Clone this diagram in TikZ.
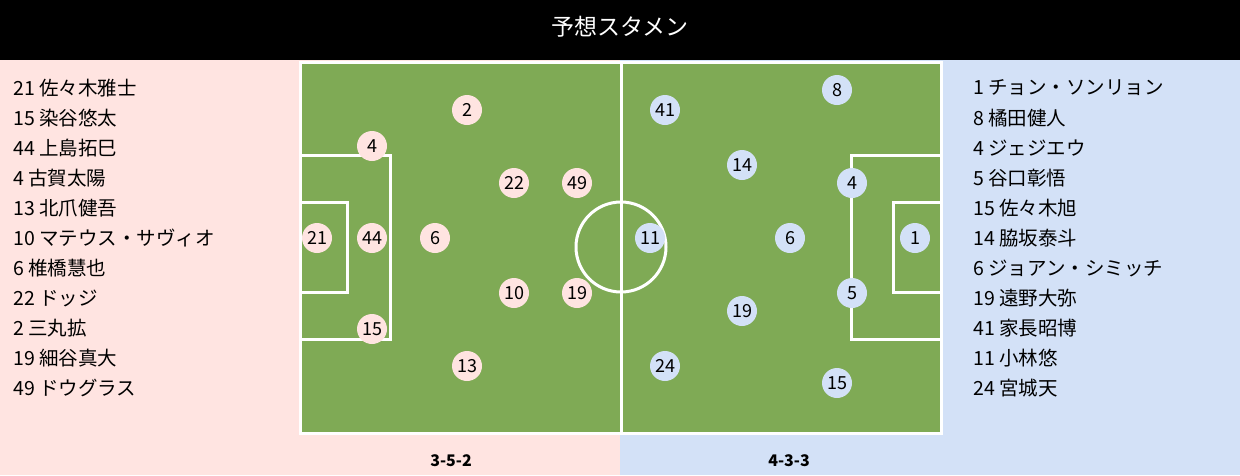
\documentclass[tikz,border=0pt]{standalone}
\usepackage{fontspec}
\setmainfont{Noto Sans CJK JP}
\definecolor{homebg}{RGB}{255,228,225}
\definecolor{awaybg}{RGB}{211,225,247}
\definecolor{turf}{RGB}{127,170,85}
\begin{document}
\begin{tikzpicture}[x=1pt,y=1pt]
\tikzstyle{every node}+=[inner sep=0pt]
\tikzstyle{home}=[circle,fill=homebg,minimum size=30pt,font=\fontsize{18}{18}\selectfont]
\tikzstyle{away}=[circle,fill=awaybg,minimum size=30pt,font=\fontsize{18}{18}\selectfont]
\tikzstyle{roster}=[anchor=west,font=\fontsize{19.5}{19.5}\selectfont]
\tikzstyle{pitchline}=[white,line width=3pt]
\useasboundingbox (0,0) rectangle (1240,-475);
\fill [homebg] (0,-60) rectangle (620,-475);
\fill [awaybg] (620,-60) rectangle (1240,-475);
\fill [black] (0,0) rectangle (1240,-60);
\draw (620,-27) node [white,font=\fontsize{23}{23}\selectfont] (title) {予想スタメン};
% pitch
\fill [turf] (300,-62) rectangle (941,-433);
\draw [pitchline] (300,-62) rectangle (941,-433);
\draw [pitchline] (621,-62) -- (621,-433);
\draw [pitchline] (621,-247) circle (45);
\draw [pitchline] (300,-155) -- (390,-155) -- (390,-339) -- (300,-339);
\draw [pitchline] (300,-202) -- (347,-202) -- (347,-292) -- (300,-292);
\draw [pitchline] (941,-155) -- (851,-155) -- (851,-339) -- (941,-339);
\draw [pitchline] (941,-202) -- (893,-202) -- (893,-292) -- (941,-292);
% home side
\draw (317,-238) node [home] (h21) {21};
\draw (372,-238) node [home] (h44) {44};
\draw (435,-238) node [home] (h6) {6};
\draw (372,-146) node [home] (h4) {4};
\draw (372,-329) node [home] (h15) {15};
\draw (467,-110) node [home] (h2) {2};
\draw (514,-183) node [home] (h22) {22};
\draw (577,-183) node [home] (h49) {49};
\draw (514,-293) node [home] (h10) {10};
\draw (577,-293) node [home] (h19) {19};
\draw (467,-366) node [home] (h13) {13};
% away side
\draw (915,-238) node [away] (a1) {1};
\draw (852,-183) node [away] (a4) {4};
\draw (852,-293) node [away] (a5) {5};
\draw (790,-238) node [away] (a6) {6};
\draw (650,-238) node [away] (a11) {11};
\draw (837,-90) node [away] (a8) {8};
\draw (665,-110) node [away] (a41) {41};
\draw (742,-165) node [away] (a14) {14};
\draw (742,-311) node [away] (a19) {19};
\draw (665,-366) node [away] (a24) {24};
\draw (837,-383) node [away] (a15) {15};
% lists
\draw (13,-88) node [roster] (l1) {21 佐々木雅士};
\draw (13,-118) node [roster] (l2) {15 染谷悠太};
\draw (13,-148) node [roster] (l3) {44 上島拓巳};
\draw (13,-178) node [roster] (l4) {4 古賀太陽};
\draw (13,-208) node [roster] (l5) {13 北爪健吾};
\draw (13,-238) node [roster] (l6) {10 マテウス・サヴィオ};
\draw (13,-268) node [roster] (l7) {6 椎橋慧也};
\draw (13,-298) node [roster] (l8) {22 ドッジ};
\draw (13,-328) node [roster] (l9) {2 三丸拡};
\draw (13,-358) node [roster] (l10) {19 細谷真大};
\draw (13,-388) node [roster] (l11) {49 ドウグラス};
\draw (973,-88) node [roster] (r1) {1 チョン・ソンリョン};
\draw (973,-118) node [roster] (r2) {8 橘田健人};
\draw (973,-148) node [roster] (r3) {4 ジェジエウ};
\draw (973,-178) node [roster] (r4) {5 谷口彰悟};
\draw (973,-208) node [roster] (r5) {15 佐々木旭};
\draw (973,-238) node [roster] (r6) {14 脇坂泰斗};
\draw (973,-268) node [roster] (r7) {6 ジョアン・シミッチ};
\draw (973,-298) node [roster] (r8) {19 遠野大弥};
\draw (973,-328) node [roster] (r9) {41 家長昭博};
\draw (973,-358) node [roster] (r10) {11 小林悠};
\draw (973,-388) node [roster] (r11) {24 宮城天};
% formations
\draw (451,-461) node [font=\bfseries\fontsize{16}{16}\selectfont] (f1) {3-5-2};
\draw (789,-461) node [font=\bfseries\fontsize{16}{16}\selectfont] (f2) {4-3-3};
\end{tikzpicture}
\end{document}
